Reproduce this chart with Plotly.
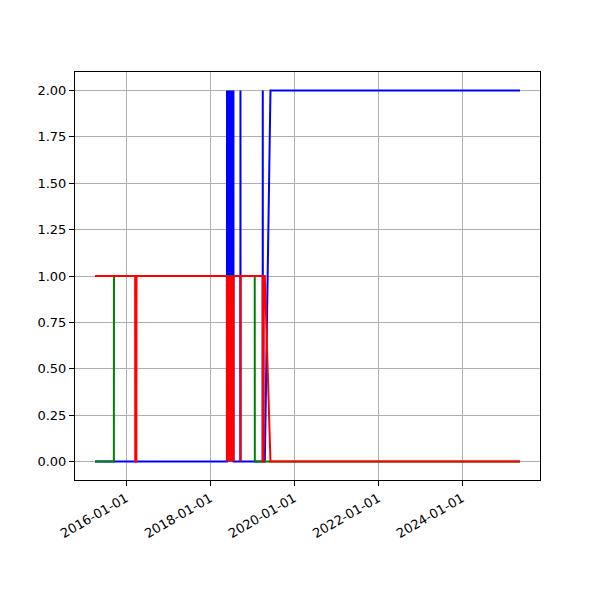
import plotly.graph_objects as go

dates = [
    "2015-04-06", "2015-09-17", "2015-09-18", "2016-03-20", "2016-03-21",
    "2016-03-31", "2016-04-01", "2018-05-27", "2018-05-28", "2018-06-01",
    "2018-06-05", "2018-06-09", "2018-06-13", "2018-06-17", "2018-06-21",
    "2018-06-25", "2018-06-29", "2018-07-03", "2018-07-07", "2018-07-11",
    "2018-07-15", "2018-07-19", "2018-07-23", "2018-07-24", "2018-09-21",
    "2018-09-22", "2018-09-23", "2019-01-24", "2019-01-25", "2019-04-03",
    "2019-04-04", "2019-04-05", "2019-04-12", "2019-04-13", "2019-04-22",
    "2019-06-10", "2025-05-19",
]
blue = [0, 0, 0, 0, 0,
        0, 0, 0, 2, 0,
        2, 0, 2, 0, 2,
        0, 2, 0, 2, 0,
        2, 0, 2, 0, 0,
        2, 0, 0, 0, 0,
        2, 0, 0, 0, 0,
        2, 2]
green = [0, 0, 1, 1, 1,
         1, 1, 1, 1, 1,
         1, 1, 1, 1, 1,
         1, 1, 1, 1, 1,
         1, 1, 1, 1, 1,
         1, 1, 1, 0, 0,
         0, 0, 0, 0, 0,
         0, 0]
red = [1, 1, 1, 1, 0,
       0, 1, 1, 0, 1,
       0, 1, 0, 1, 0,
       1, 0, 1, 0, 1,
       0, 1, 0, 1, 1,
       0, 1, 1, 1, 1,
       0, 0, 0, 1, 1,
       0, 0]

y_ticks = [0, 0.25, 0.5, 0.75, 1.0, 1.25, 1.5, 1.75, 2.0]
x_ticks = ["2016-01-01", "2018-01-01", "2020-01-01", "2022-01-01", "2024-01-01"]

fig = go.Figure()
for vals, col in [(blue, "#0000ff"), (green, "#008000"), (red, "#ff0000")]:
    fig.add_trace(go.Scatter(x=dates, y=vals, mode="lines",
                             line=dict(color=col, width=2), showlegend=False))

axis_common = dict(showline=True, linecolor="black", linewidth=1, mirror=True,
                   showgrid=True, gridcolor="#b0b0b0", gridwidth=1,
                   ticks="outside", ticklen=5, tickcolor="black", zeroline=False,
                   tickfont=dict(family="DejaVu Sans", size=13, color="black"))

fig.update_xaxes(range=["2014-10-14", "2025-11-09"], tickvals=x_ticks,
                 ticktext=x_ticks, tickangle=-30, **axis_common)
fig.update_yaxes(range=[-0.1, 2.1], tickvals=y_ticks, tickformat=".2f",
                 **axis_common)

fig.update_layout(width=600, height=600, plot_bgcolor="white", paper_bgcolor="white",
                  margin=dict(l=67, r=68, t=64, b=128),
                  font=dict(family="DejaVu Sans", size=13, color="black"))

fig.write_html("out.html")
